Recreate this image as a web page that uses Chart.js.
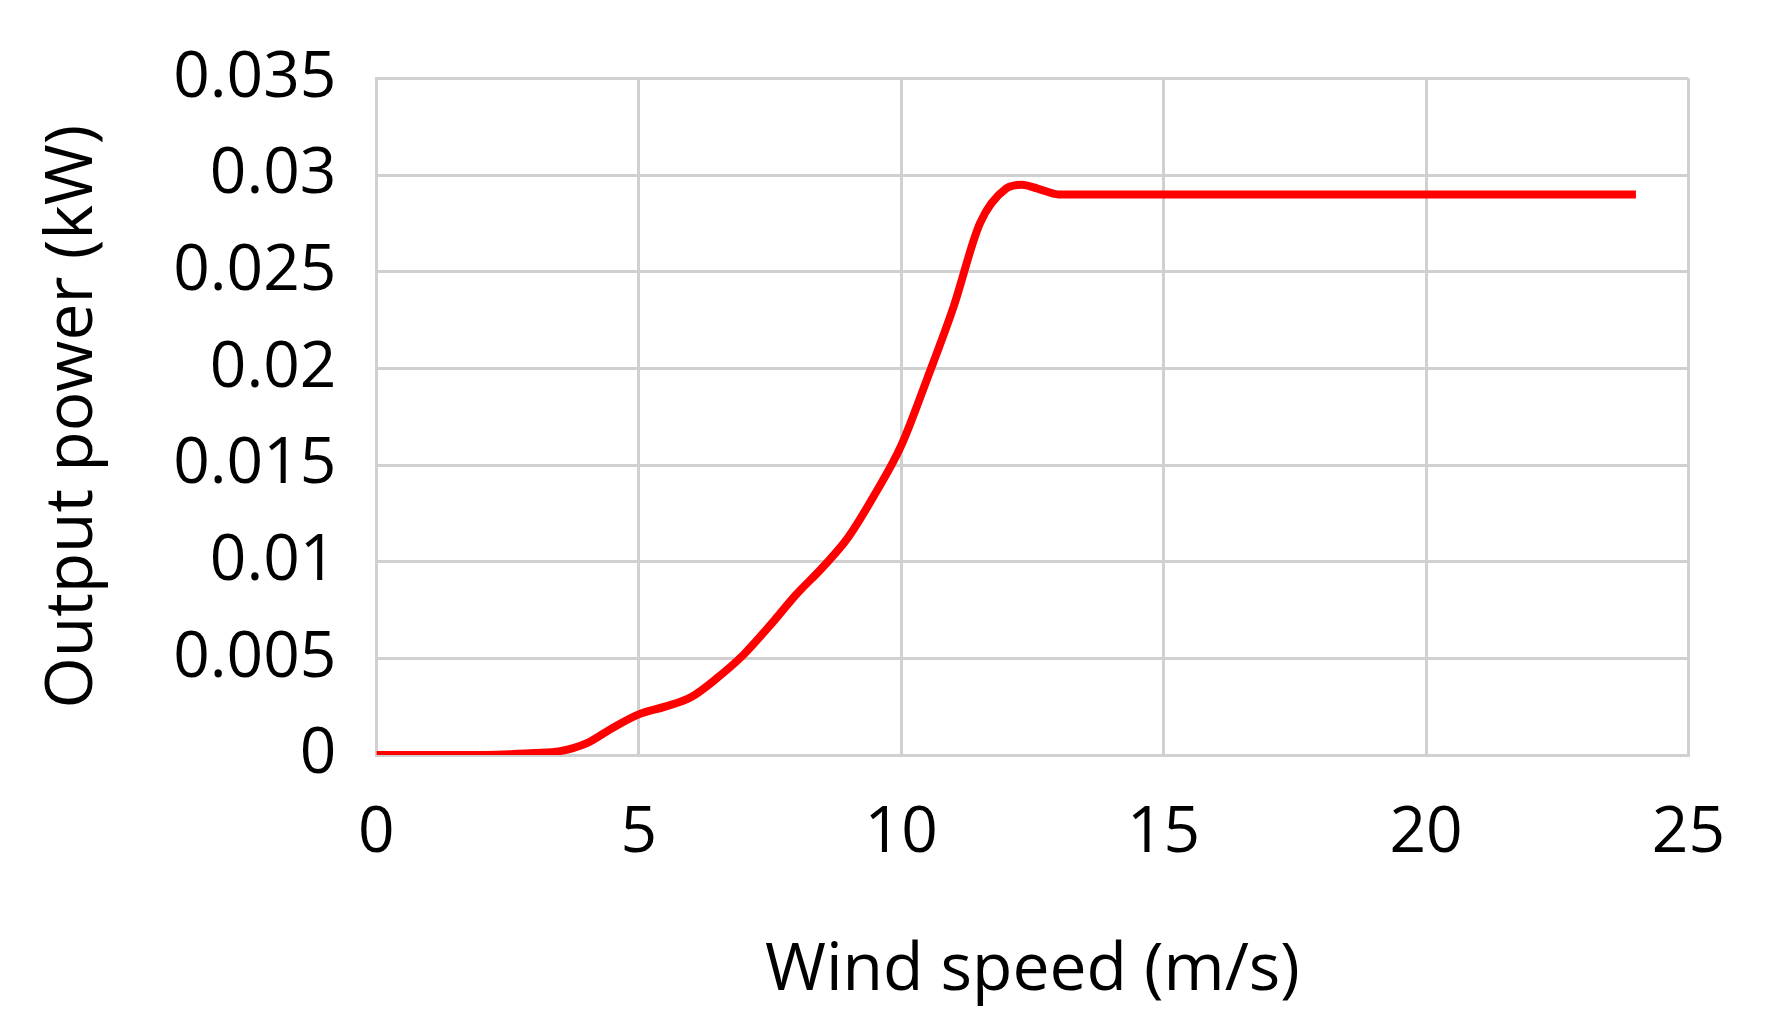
<!DOCTYPE html>
<html><head><meta charset="utf-8">
<script src="https://cdn.jsdelivr.net/npm/chart.js@4"></script>
<style>html,body{margin:0;background:#fff}#wrap{width:1765px;height:1035px}</style>
</head><body><div id="wrap"><canvas id="c"></canvas></div>
<script>
const windSpeed = [0, 1, 2, 3, 3.5, 4, 4.5, 5, 5.5, 6, 6.5, 7, 7.5, 8, 8.5, 9, 9.5, 10, 10.5, 11, 11.5, 12, 12.3, 12.6, 13, 15, 20, 24];
const outputPower = [0, 0, 0, 0.0001, 0.0002, 0.0006, 0.0014, 0.0021, 0.0025, 0.003, 0.004, 0.0052, 0.0067, 0.0083, 0.0097, 0.0113, 0.0135, 0.016, 0.0195, 0.0232, 0.0275, 0.0293, 0.0295, 0.0293, 0.029, 0.029, 0.029, 0.029];
const xTitle = 'Wind speed (m/s)';
const yTitle = 'Output power (kW)';

new Chart(document.getElementById('c'), {
  type: 'line',
  data: { datasets: [{
    data: windSpeed.map((x, i) => ({ x, y: outputPower[i] })),
    borderColor: '#ff0000', borderWidth: 8, pointRadius: 0, tension: 0.4, cubicInterpolationMode: 'monotone', fill: false
  }]},
  options: {
    responsive: true, maintainAspectRatio: false, animation: false,
    layout: { padding: { top: 55, right: 55, bottom: 20, left: 30 } },
    plugins: { legend: { display: false }, tooltip: { enabled: false } },
    scales: {
      x: { type: 'linear', min: 0, max: 25,
        ticks: { stepSize: 5, color: '#000', font: { family: 'Open Sans', size: 64 }, padding: 40 },
        grid: { color: '#d0d0d0', lineWidth: 3, drawTicks: false },
        border: { color: '#d0d0d0', width: 3 },
        title: { display: true, text: xTitle, color: '#000', font: { family: 'Open Sans', size: 66 }, padding: { top: 20 } } },
      y: { min: 0, max: 0.035,
        ticks: { stepSize: 0.005, color: '#000', font: { family: 'Open Sans', size: 64 }, padding: 40,
          callback: v => String(Math.round(v * 1000) / 1000) },
        grid: { color: '#d0d0d0', lineWidth: 3, drawTicks: false },
        border: { color: '#d0d0d0', width: 3 },
        title: { display: true, text: yTitle, color: '#000', font: { family: 'Open Sans', size: 66 }, padding: { bottom: 20 } } }
    }
  }
});
</script></body></html>
